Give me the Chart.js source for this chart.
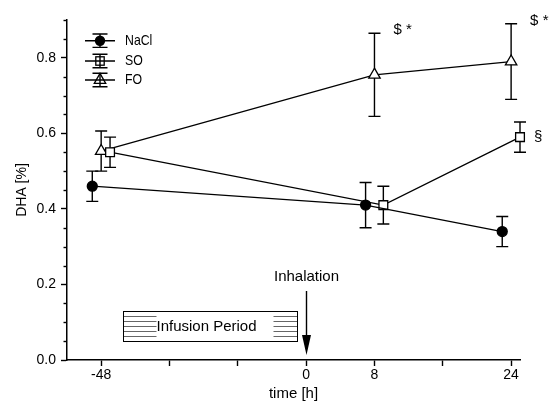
<!DOCTYPE html>
<html><head><meta charset="utf-8">
<script src="https://cdn.jsdelivr.net/npm/chart.js@4/dist/chart.umd.min.js"></script>
<style>html,body{margin:0;padding:0;background:#fff;}canvas{display:block;}</style>
</head><body>
<canvas id="c" width="551" height="403"></canvas>
<script>
// ---- data ----
const tickLabels = ['-48', '', '', '0', '8', '', '24'];
const timePoints = ['-48', '8', '24'];
const seriesNames = ['NaCl', 'SO', 'FO'];
const naclMean = [0.46, 0.41, 0.34];
const naclErr  = [0.04, 0.06, 0.04];
const soMean   = [0.55, 0.41, 0.59];
const soErr    = [0.04, 0.05, 0.04];
const foMean   = [0.553, 0.755, 0.79];
const foErr    = [0.053, 0.11, 0.10];
const soMarks  = ['', '', '§'];
const foMarks  = ['', '$ *', '$ *'];
const yTickValues = [0, 0.05, 0.1, 0.15, 0.2, 0.25, 0.3, 0.35, 0.4, 0.45, 0.5, 0.55, 0.6, 0.65, 0.7, 0.75, 0.8, 0.85, 0.9];
const yMajorLabels = ['0.0', '0.2', '0.4', '0.6', '0.8'];

// ---- chart ----
const FONT = "'Liberation Sans', Arial, Helvetica, sans-serif";
Chart.defaults.font.family = FONT;
Chart.defaults.color = '#000';

const slot = t => tickLabels.indexOf(t);
const OFF = 0.13;
function pts(mean, off) { return timePoints.map((t, i) => ({ x: slot(t) + off, y: mean[i] })); }
const isMajor = v => yMajorLabels.includes(Number(v).toFixed(1)) && Math.abs(v * 5 - Math.round(v * 5)) < 1e-6;

const common = { borderColor: '#000', borderWidth: 1.3, pointBorderColor: '#000', pointBorderWidth: 1.3, tension: 0, clip: false, fill: false };
const datasets = [
  Object.assign({ label: seriesNames[0], data: pts(naclMean, -OFF), err: naclErr, marks: ['', '', ''],
    pointStyle: 'circle', pointRadius: 5, pointBackgroundColor: '#000' }, common),
  Object.assign({ label: seriesNames[1], data: pts(soMean, OFF), err: soErr, marks: soMarks,
    pointStyle: 'rect', pointRadius: 6.2, pointBackgroundColor: '#fff' }, common),
  Object.assign({ label: seriesNames[2], data: pts(foMean, 0), err: foErr, marks: foMarks,
    pointStyle: 'triangle', pointRadius: 6.6, pointBackgroundColor: '#fff' }, common)
];

const errorBars = {
  id: 'errorBars',
  beforeDatasetsDraw(chart) {
    const { ctx, scales: { x, y } } = chart;
    ctx.save(); ctx.strokeStyle = '#000'; ctx.lineWidth = 1.4;
    chart.data.datasets.forEach(ds => {
      ds.data.forEach((p, i) => {
        const px = x.getPixelForValue(p.x);
        const top = y.getPixelForValue(p.y + ds.err[i]);
        const bot = y.getPixelForValue(p.y - ds.err[i]);
        ctx.beginPath();
        ctx.moveTo(px, top); ctx.lineTo(px, bot);
        ctx.moveTo(px - 6, top); ctx.lineTo(px + 6, top);
        ctx.moveTo(px - 6, bot); ctx.lineTo(px + 6, bot);
        ctx.stroke();
      });
    });
    ctx.restore();
  }
};

const extras = {
  id: 'extras',
  afterDraw(chart) {
    const { ctx, scales: { x, y } } = chart;
    ctx.save();
    // minor y ticks
    ctx.strokeStyle = '#000'; ctx.lineWidth = 1.4;
    yTickValues.forEach(v => {
      if (isMajor(v)) return;
      const py = Math.round(y.getPixelForValue(v)) + 0.5;
      ctx.beginPath(); ctx.moveTo(chart.chartArea.left - 3.5, py); ctx.lineTo(chart.chartArea.left, py); ctx.stroke();
    });
    // significance marks
    ctx.fillStyle = '#000'; ctx.font = '15px ' + FONT; ctx.textBaseline = 'middle'; ctx.textAlign = 'left';
    chart.data.datasets.forEach(ds => {
      ds.data.forEach((p, i) => {
        const m = ds.marks[i]; if (!m) return;
        const px = x.getPixelForValue(p.x);
        if (m === '§') {
          ctx.fillText(m, px + 14, y.getPixelForValue(p.y));
        } else {
          ctx.fillText(m, px + 19, y.getPixelForValue(p.y + ds.err[i]) - 3);
        }
      });
    });
    // Inhalation arrow
    const ax = Math.round(x.getPixelForValue(slot('0'))) + 0.5;
    ctx.textAlign = 'center';
    ctx.fillText('Inhalation', ax, 277);
    ctx.lineWidth = 1.4;
    ctx.beginPath(); ctx.moveTo(ax, 291); ctx.lineTo(ax, 338); ctx.stroke();
    ctx.beginPath(); ctx.moveTo(ax - 4.5, 335); ctx.lineTo(ax + 4.5, 335); ctx.lineTo(ax, 355); ctx.closePath(); ctx.fill();
    // Infusion period box
    const bx0 = Math.round(x.getPixelForValue(0.32)) + 0.5;
    const bx1 = Math.round(x.getPixelForValue(2.86)) + 0.5;
    const by0 = 311.5, by1 = 341.5;
    ctx.strokeStyle = '#666'; ctx.lineWidth = 1;
    for (let k = 1; k <= 5; k++) {
      const ly = by0 + k * (by1 - by0) / 6;
      ctx.beginPath(); ctx.moveTo(bx0, ly); ctx.lineTo(bx0 + 33, ly); ctx.stroke();
      ctx.beginPath(); ctx.moveTo(bx1 - 24, ly); ctx.lineTo(bx1, ly); ctx.stroke();
    }
    ctx.strokeStyle = '#000';
    ctx.strokeRect(bx0, by0, bx1 - bx0, by1 - by0);
    ctx.fillText('Infusion Period', bx0 + 83, 327);
    // legend
    const styles = ['circle', 'rect', 'triangle'];
    const lx = 100;
    [40.7, 61, 80].forEach((ly, i) => {
      ctx.strokeStyle = '#000'; ctx.fillStyle = '#000'; ctx.lineWidth = 1.4;
      ctx.beginPath();
      ctx.moveTo(85, ly); ctx.lineTo(115, ly);
      ctx.moveTo(lx, ly - 6.7); ctx.lineTo(lx, ly + 6.7);
      ctx.moveTo(lx - 7.5, ly - 6.7); ctx.lineTo(lx + 7.5, ly - 6.7);
      ctx.moveTo(lx - 7.5, ly + 6.7); ctx.lineTo(lx + 7.5, ly + 6.7);
      ctx.stroke();
      ctx.lineWidth = 1.3;
      if (styles[i] === 'circle') {
        ctx.beginPath(); ctx.arc(lx, ly, 5.2, 0, Math.PI * 2); ctx.fill();
      } else if (styles[i] === 'rect') {
        ctx.strokeRect(lx - 4.2, ly - 4.2, 8.4, 8.4);
      } else {
        const r = 6.6;
        ctx.beginPath();
        ctx.moveTo(lx, ly - r);
        ctx.lineTo(lx + r * Math.sin(2 * Math.PI / 3), ly - r * Math.cos(2 * Math.PI / 3));
        ctx.lineTo(lx + r * Math.sin(4 * Math.PI / 3), ly - r * Math.cos(4 * Math.PI / 3));
        ctx.closePath(); ctx.stroke();
      }
      ctx.save();
      ctx.translate(125, ly); ctx.scale(0.82, 1);
      ctx.font = '15px ' + FONT; ctx.textAlign = 'left'; ctx.textBaseline = 'middle';
      ctx.fillText(seriesNames[i], 0, 0);
      ctx.restore();
    });
    ctx.restore();
  }
};

new Chart(document.getElementById('c'), {
  type: 'line',
  data: { datasets },
  options: {
    responsive: false,
    animation: false,
    devicePixelRatio: 1,
    layout: { padding: { top: 20, right: 31, left: 0, bottom: 0 } },
    plugins: { legend: { display: false }, tooltip: { enabled: false } },
    events: [],
    scales: {
      x: {
        type: 'linear', position: 'bottom', min: -0.5, max: 6.13,
        afterBuildTicks: s => { s.ticks = tickLabels.map((_, i) => ({ value: i })); },
        afterFit: s => { s.height = 43; },
        ticks: { callback: v => tickLabels[v], autoSkip: false, maxRotation: 0, font: { size: 14 }, padding: 1, color: '#000' },
        grid: { drawOnChartArea: false, tickLength: 6, tickColor: '#000', tickWidth: 1.4 },
        border: { color: '#000', width: 1.5 },
        title: { display: true, text: 'time [h]', font: { size: 15 }, padding: { top: 0, bottom: 0 }, color: '#000' }
      },
      y: {
        type: 'linear', min: 0, max: 0.9,
        afterBuildTicks: s => { s.ticks = yTickValues.map(v => ({ value: v })); },
        afterFit: s => { s.width = 67; },
        ticks: { callback: v => isMajor(v) ? Number(v).toFixed(1) : '', autoSkip: false, font: { size: 14 }, padding: 5, color: '#000' },
        grid: { drawOnChartArea: false, tickLength: 6, tickWidth: 1.4,
          tickColor: c => (c.tick && isMajor(c.tick.value)) ? '#000' : 'rgba(0,0,0,0)' },
        border: { color: '#000', width: 1.5 },
        title: { display: true, text: 'DHA [%]', font: { size: 14 }, padding: { top: 14, bottom: 0 }, color: '#000' }
      }
    }
  },
  plugins: [errorBars, extras]
});
</script>
</body></html>
